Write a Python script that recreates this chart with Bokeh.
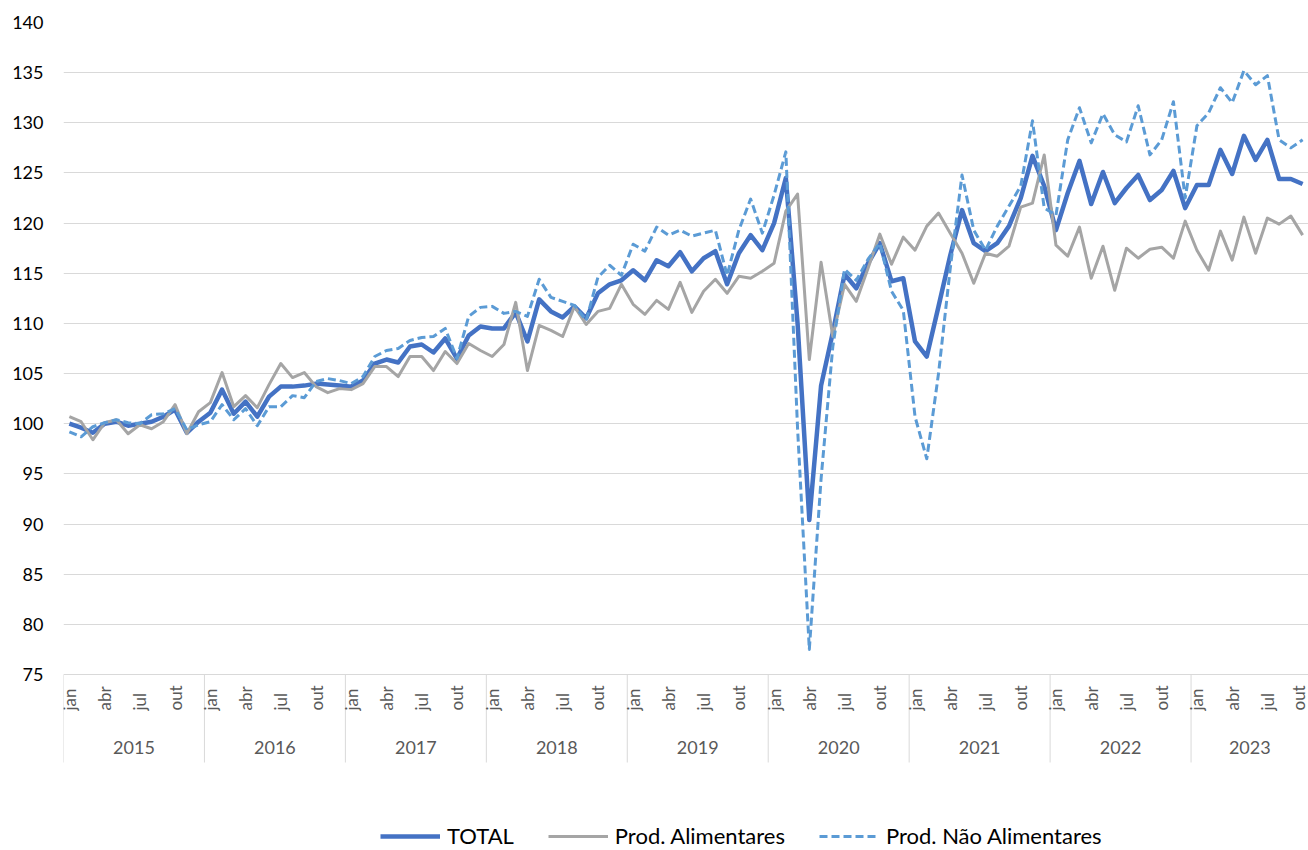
import math
from bokeh.plotting import figure
from bokeh.models import Range1d, FixedTicker, LinearAxis, Legend, LegendItem, Grid, ColumnDataSource
from bokeh.core.properties import value
from bokeh.embed import file_html
from bokeh.resources import INLINE

years = ["2015", "2016", "2017", "2018", "2019", "2020", "2021", "2022", "2023"]
month_names = ["jan", "fev", "mar", "abr", "mai", "jun", "jul", "ago", "set", "out", "nov", "dez"]
y_ticks = [75, 80, 85, 90, 95, 100, 105, 110, 115, 120, 125, 130, 135, 140]

total = [
    100.0, 99.6, 99.1, 100.0, 100.2, 99.8, 100.0, 100.2, 100.7, 101.4, 99.1, 100.2,
    101.1, 103.4, 101.0, 102.2, 100.7, 102.7, 103.7, 103.7, 103.8, 104.0, 103.9, 103.8,
    103.7, 104.3, 106.0, 106.4, 106.1, 107.7, 107.9, 107.1, 108.5, 106.5, 108.8, 109.7,
    109.5, 109.5, 111.1, 108.2, 112.4, 111.2, 110.6, 111.7, 110.5, 113.0, 113.9, 114.3,
    115.3, 114.3, 116.3, 115.7, 117.1, 115.2, 116.5, 117.2, 113.9, 117.0, 118.8, 117.3,
    120.0, 124.5, 110.0, 90.4, 103.8, 109.1, 114.9, 113.5, 116.0, 118.0, 114.2, 114.5,
    108.2, 106.7, 111.7, 116.8, 121.3, 118.0, 117.2, 118.0, 119.7, 122.5, 126.7, 123.7,
    119.3, 123.0, 126.2, 121.9, 125.1, 122.0, 123.5, 124.8, 122.3, 123.3, 125.2, 121.5,
    123.8, 123.8, 127.3, 124.9, 128.7, 126.3, 128.3, 124.4, 124.4, 123.9,
]

alimentares = [
    100.7, 100.2, 98.4, 100.1, 100.4, 99.0, 99.9, 99.5, 100.2, 101.9, 99.0, 101.2,
    102.1, 105.1, 101.7, 102.8, 101.6, 103.9, 106.0, 104.6, 105.1, 103.7, 103.1, 103.5,
    103.4, 104.0, 105.7, 105.7, 104.7, 106.7, 106.7, 105.3, 107.2, 106.0, 108.0, 107.3,
    106.7, 107.9, 112.1, 105.3, 109.8, 109.3, 108.7, 111.7, 109.9, 111.2, 111.5, 113.9,
    111.9, 110.9, 112.3, 111.4, 114.1, 111.1, 113.2, 114.4, 113.0, 114.7, 114.5, 115.2,
    116.0, 121.2, 122.9, 106.4, 116.1, 108.7, 113.9, 112.2, 115.5, 118.9, 115.9, 118.6,
    117.3, 119.7, 121.0, 119.0, 117.0, 114.0, 117.0, 116.7, 117.7, 121.6, 122.0, 126.8,
    117.8, 116.7, 119.6, 114.5, 117.7, 113.3, 117.5, 116.5, 117.4, 117.6, 116.5, 120.2,
    117.3, 115.3, 119.2, 116.3, 120.6, 117.0, 120.5, 119.9, 120.7, 118.8,
]

nao_alimentares = [
    99.2, 98.7, 99.7, 100.1, 100.4, 100.1, 100.0, 100.9, 101.0, 101.5, 99.4, 99.9,
    100.2, 101.9, 100.4, 101.5, 99.8, 101.7, 101.7, 102.8, 102.6, 104.2, 104.5, 104.3,
    104.0, 104.7, 106.7, 107.3, 107.5, 108.3, 108.6, 108.7, 109.5, 106.5, 110.7, 111.6,
    111.7, 111.0, 111.2, 110.7, 114.4, 112.6, 112.2, 111.8, 110.3, 114.6, 115.8, 114.8,
    117.9, 117.2, 119.6, 118.8, 119.3, 118.7, 119.0, 119.3, 114.8, 119.3, 122.4, 119.0,
    122.8, 127.1, 99.5, 77.5, 94.5, 107.7, 115.4, 114.3, 116.4, 118.0, 113.2, 111.3,
    100.7, 96.5, 105.0, 115.5, 124.8, 119.3, 117.3, 119.7, 121.7, 123.7, 130.2, 121.5,
    120.8, 128.3, 131.5, 128.0, 130.9, 128.8, 128.1, 131.7, 126.8, 128.3, 132.1, 122.5,
    129.7, 131.0, 133.5, 132.0, 135.2, 133.8, 134.7, 128.3, 127.5, 128.3,
]

series_labels = ["TOTAL", "Prod. Alimentares", "Prod. Não Alimentares"]

FONT = "Lato"
GRID = "#D9D9D9"
W, H = 1308, 850
TOP, LEFT = 22, 63          # frame offsets inside the figure
Y_MIN, Y_MAX = 75, 140
PLOT_PX = 652               # pixels between 75 and 140
U = (Y_MAX - Y_MIN) / PLOT_PX  # data units per pixel


def below(px):
    """data y that lies px pixels below the 75 line"""
    return Y_MIN - px * U


n = len(total)
xs = list(range(n))
frame_h = H - TOP

p = figure(width=W, height=H, output_backend="svg", toolbar_location=None,
           x_range=Range1d(-0.5, n - 0.5),
           y_range=Range1d(Y_MAX - frame_h * U, Y_MAX),
           x_axis_location=None, y_axis_location=None,
           min_border_left=LEFT, min_border_right=0, min_border_top=TOP, min_border_bottom=0)
p.outline_line_color = None
p.background_fill_color = "white"
p.border_fill_color = "white"
p.xgrid.visible = False
p.ygrid.visible = False

yticker = FixedTicker(ticks=y_ticks, minor_ticks=[])
yaxis = LinearAxis(ticker=yticker, axis_line_color=None,
                   major_tick_line_color=None, minor_tick_line_color=None,
                   major_tick_out=0, major_tick_in=0, minor_tick_out=0, minor_tick_in=0,
                   major_label_standoff=20,
                   major_label_text_font=FONT, major_label_text_font_size="18px",
                   major_label_text_color="#000000")
p.add_layout(yaxis, "left")
p.add_layout(Grid(dimension=1, ticker=yticker, grid_line_color=GRID, grid_line_width=1))

# category axis (months / years) drawn inside the extended frame
bounds = [12 * k - 0.5 for k in range(len(years))] + [n - 0.5]
centers = [(12 * k + min(12 * k + 11, n - 1)) / 2 for k in range(len(years))]
mticks = [i for i in xs if i % 3 == 0]
# keep the last (edge) label fully inside the frame
moff = [-4 if i == n - 1 else 0 for i in mticks]

p.segment(x0=bounds, y0=[Y_MIN] * len(bounds), x1=bounds, y1=[below(88)] * len(bounds),
          line_color=GRID, line_width=1)

msrc = ColumnDataSource(dict(x=mticks, y=[below(36)] * len(mticks),
                             t=[month_names[i % 12] for i in mticks], dx=moff))
p.text(x="x", y="y", text="t", source=msrc, angle=math.pi / 2, x_offset="dx",
       text_align="left", text_baseline="middle",
       text_font=value(FONT), text_font_size="17px", text_color="#595959")

ysrc = ColumnDataSource(dict(x=centers, y=[below(73)] * len(centers), t=years))
p.text(x="x", y="y", text="t", source=ysrc,
       text_align="center", text_baseline="middle",
       text_font=value(FONT), text_font_size="18px", text_color="#595959")

r_t = p.line(xs, total, line_color="#4472C4", line_width=4.5, line_join="round")
r_a = p.line(xs, alimentares, line_color="#A5A5A5", line_width=3, line_join="round")
r_n = p.line(xs, nao_alimentares, line_color="#5B9BD5", line_width=3,
             line_dash="8 4", line_join="round")

legend = Legend(items=[LegendItem(label=series_labels[0], renderers=[r_t]),
                       LegendItem(label=series_labels[1], renderers=[r_a]),
                       LegendItem(label=series_labels[2], renderers=[r_n])],
                orientation="horizontal", location=(317, 1),
                glyph_width=60, glyph_height=24, label_height=24,
                label_standoff=7, spacing=34, padding=0, margin=0,
                border_line_color=None, background_fill_alpha=0,
                label_text_font=FONT, label_text_font_size="22px",
                label_text_color="#000000")
p.add_layout(legend, "center")

open("out.html", "w").write(file_html(p, INLINE))
